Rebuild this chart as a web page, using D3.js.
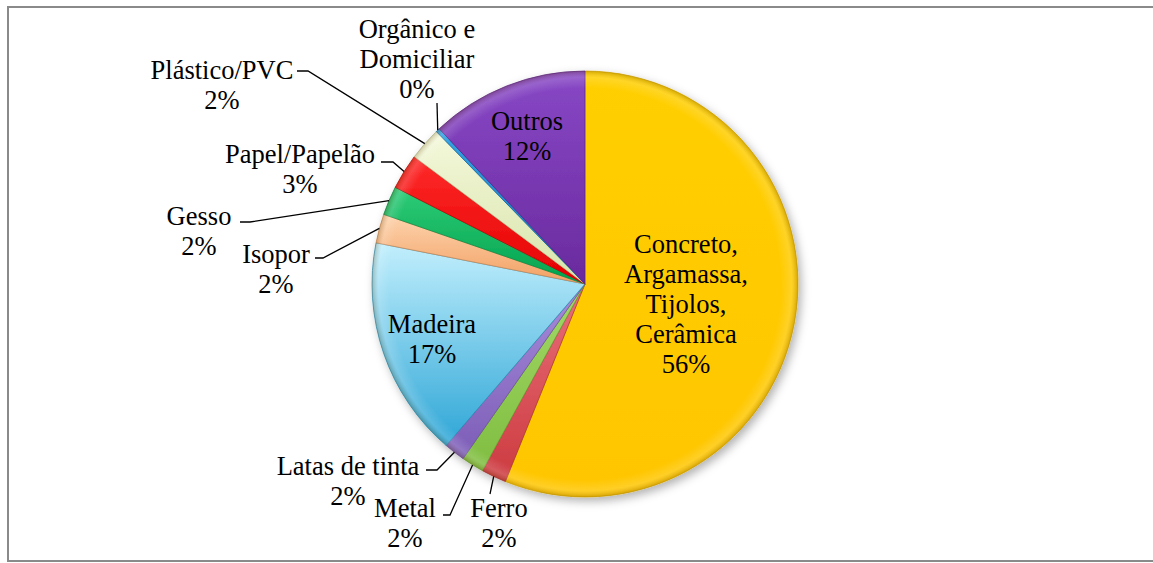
<!DOCTYPE html>
<html>
<head>
<meta charset="utf-8" />
<title>Composição dos resíduos</title>
<script src="https://d3js.org/d3.v7.min.js"></script>
<style>
body { margin: 0; background: #fff; }
</style>
</head>
<body>
<script>
// data (clockwise from 12 o'clock)
var categories = ["Concreto,\nArgamassa,\nTijolos,\nCerâmica", "Ferro", "Metal", "Latas de tinta", "Madeira",
  "Isopor", "Gesso", "Papel/Papelão", "Plástico/PVC", "Orgânico e\nDomiciliar", "Outros"];
var values = [56.1, 1.9, 1.7, 1.6, 16.8, 2.2, 2.2, 2.7, 2.5, 0.3, 12.0];
var pctLabels = ["56%", "2%", "2%", "2%", "17%", "2%", "2%", "3%", "2%", "0%", "12%"];

// colours: light top / dark bottom of each slice
var colTop = ["#ffcf00", "#e9707a", "#a3d968", "#a78cdb", "#c2effd", "#fdd3ad", "#2fcc78", "#ff2a2a", "#f4f8db", "#35a4e4", "#8848c6"];
var colBot = ["#ffc600", "#cc3a3f", "#7fbd40", "#7c5db7", "#2ea6d6", "#f2a063", "#00a24d", "#e40000", "#d8e4aa", "#1070bd", "#6a2a9e"];

// label placement (centre x, first baseline) and leader start / elbow
var labelLayout = [
  {x: 686, y: 253},
  {x: 499, y: 517, lead: [[490, 494]]},
  {x: 405, y: 517, lead: [[443, 515], [450, 515]]},
  {x: 348, y: 475, lead: [[426, 470], [437, 470]]},
  {x: 432, y: 333},
  {x: 276, y: 263, lead: [[315, 258], [323, 258]]},
  {x: 199, y: 225, lead: [[240, 222], [250, 222]]},
  {x: 300, y: 163, lead: [[381, 162], [393, 162]]},
  {x: 222, y: 79, lead: [[297, 71], [308, 71]]},
  {x: 417, y: 38, lead: [[437, 103]]},
  {x: 527, y: 130}
];

var W = 1153, H = 563;
var cx = 585, cy = 284, r = 213;
var lineH = 30;

var svg = d3.select("body").append("svg")
  .attr("width", W)
  .attr("height", H);

// chart area frame
svg.append("rect")
  .attr("x", 8).attr("y", 7)
  .attr("width", W).attr("height", 554)
  .attr("fill", "#fff")
  .attr("stroke", "#8a8a8a")
  .attr("stroke-width", 2);

var defs = svg.append("defs");

var shadow = defs.append("filter").attr("id", "shadow")
  .attr("x", "-20%").attr("y", "-20%").attr("width", "140%").attr("height", "140%");
shadow.append("feDropShadow")
  .attr("dx", 3).attr("dy", 4).attr("stdDeviation", 5)
  .attr("flood-color", "#000").attr("flood-opacity", 0.3);

categories.forEach(function(c, i) {
  var g = defs.append("linearGradient").attr("id", "grad" + i)
    .attr("x1", 0).attr("y1", 0).attr("x2", 0).attr("y2", 1);
  g.append("stop").attr("offset", "0%").attr("stop-color", colTop[i]);
  g.append("stop").attr("offset", "100%").attr("stop-color", colBot[i]);
});

// bevel ring on the outer edge (pie-local coordinates)
var bevel = defs.append("radialGradient").attr("id", "bevel")
  .attr("gradientUnits", "userSpaceOnUse")
  .attr("cx", 0).attr("cy", 0).attr("r", r);
bevel.append("stop").attr("offset", "0.92").attr("stop-color", "#fff").attr("stop-opacity", 0);
bevel.append("stop").attr("offset", "0.97").attr("stop-color", "#fff").attr("stop-opacity", 0.15);
bevel.append("stop").attr("offset", "1").attr("stop-color", "#5a3a00").attr("stop-opacity", 0.25);

var pie = d3.pie().sort(null).value(function(d) { return d; });
var arcs = pie(values);

var arc = d3.arc().innerRadius(0).outerRadius(r);
var edgeArc = d3.arc().innerRadius(r).outerRadius(r);

var pieG = svg.append("g")
  .attr("transform", "translate(" + cx + "," + cy + ")");

var slices = pieG.append("g").attr("filter", "url(#shadow)");

slices.selectAll("path.slice")
  .data(arcs)
  .enter().append("path")
  .attr("class", "slice")
  .attr("d", arc)
  .attr("fill", function(d, i) { return "url(#grad" + i + ")"; })
  .attr("stroke", function(d, i) { return d3.color(colBot[i]).darker(0.5); })
  .attr("stroke-width", 0.7)
  .attr("stroke-linejoin", "round");

pieG.append("circle")
  .attr("r", r)
  .attr("fill", "url(#bevel)")
  .attr("pointer-events", "none");

// leader lines
arcs.forEach(function(d, i) {
  var L = labelLayout[i];
  if (!L.lead) return;
  var p = edgeArc.centroid(d);
  var pts = L.lead.concat([[p[0] + cx, p[1] + cy]]);
  svg.append("path")
    .attr("d", d3.line()(pts))
    .attr("fill", "none")
    .attr("stroke", "#000")
    .attr("stroke-width", 1.3);
});

// labels
arcs.forEach(function(d, i) {
  var L = labelLayout[i];
  var lines = categories[i].split("\n").concat([pctLabels[i]]);
  var t = svg.append("text")
    .attr("text-anchor", "middle")
    .attr("font-family", "Liberation Serif")
    .attr("font-size", 26.5)
    .attr("fill", "#000");
  lines.forEach(function(s, k) {
    t.append("tspan")
      .attr("x", L.x)
      .attr("y", L.y + k * lineH)
      .text(s);
  });
});
</script>
</body>
</html>
